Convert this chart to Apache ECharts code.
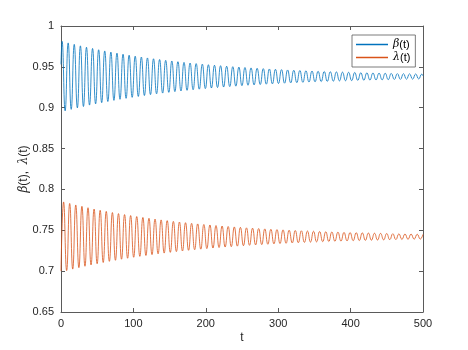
<!DOCTYPE html>
<html>
<head>
<meta charset="utf-8">
<script src="https://cdn.jsdelivr.net/npm/echarts@6/dist/echarts.min.js"></script>
<style>html,body{margin:0;padding:0;background:#fff}#c{width:468px;height:350px}</style>
</head>
<body>
<div id="c"></div>
<script>
// x tick labels / y tick labels
const xTicks = [0, 100, 200, 300, 400, 500];
const yTicks = [0.65, 0.7, 0.75, 0.8, 0.85, 0.9, 0.95, 1];

// beta(t): times of start, successive extremes, end
const betaT = [0,
  1.5, 5.7, 9.9, 14.1, 18.3, 22.6, 26.8, 31.0, 35.2, 39.4,
  43.6, 47.8, 52.0, 56.2, 60.4, 64.7, 68.9, 73.1, 77.3, 81.5,
  85.7, 89.9, 94.1, 98.3, 102.5, 106.8, 111.0, 115.2, 119.4, 123.6,
  127.8, 132.0, 136.2, 140.4, 144.6, 148.9, 153.1, 157.3, 161.5, 165.7,
  169.9, 174.1, 178.3, 182.5, 186.7, 191.0, 195.2, 199.4, 203.6, 207.8,
  212.0, 216.2, 220.4, 224.6, 228.8, 233.1, 237.3, 241.5, 245.7, 249.9,
  254.1, 258.3, 262.5, 266.7, 270.9, 275.2, 279.4, 283.6, 287.8, 292.0,
  296.2, 300.4, 304.6, 308.8, 313.0, 317.3, 321.5, 325.7, 329.9, 334.1,
  338.3, 342.5, 346.7, 350.9, 355.1, 359.4, 363.6, 367.8, 372.0, 376.2,
  380.4, 384.6, 388.8, 393.0, 397.2, 401.5, 405.7, 409.9, 414.1, 418.3,
  422.5, 426.7, 430.9, 435.1, 439.3, 443.6, 447.8, 452.0, 456.2, 460.4,
  464.6, 468.8, 473.0, 477.2, 481.4, 485.7, 489.9, 494.1, 498.3,
  500];
const betaV = [0.953,
  0.9812, 0.8962, 0.9793, 0.8980, 0.9775, 0.8998, 0.9757, 0.9015, 0.9740, 0.9032,
  0.9725, 0.9047, 0.9709, 0.9062, 0.9695, 0.9076, 0.9681, 0.9090, 0.9668, 0.9103,
  0.9655, 0.9115, 0.9643, 0.9127, 0.9631, 0.9138, 0.9620, 0.9149, 0.9609, 0.9160,
  0.9599, 0.9170, 0.9590, 0.9179, 0.9580, 0.9188, 0.9572, 0.9197, 0.9563, 0.9205,
  0.9555, 0.9213, 0.9547, 0.9220, 0.9540, 0.9227, 0.9533, 0.9234, 0.9526, 0.9241,
  0.9520, 0.9247, 0.9514, 0.9253, 0.9508, 0.9259, 0.9502, 0.9264, 0.9497, 0.9270,
  0.9492, 0.9275, 0.9487, 0.9279, 0.9482, 0.9284, 0.9478, 0.9288, 0.9474, 0.9292,
  0.9470, 0.9296, 0.9466, 0.9300, 0.9462, 0.9304, 0.9458, 0.9307, 0.9455, 0.9311,
  0.9452, 0.9314, 0.9449, 0.9317, 0.9446, 0.9320, 0.9443, 0.9322, 0.9440, 0.9325,
  0.9438, 0.9328, 0.9435, 0.9330, 0.9433, 0.9332, 0.9431, 0.9335, 0.9428, 0.9337,
  0.9426, 0.9339, 0.9424, 0.9341, 0.9422, 0.9342, 0.9421, 0.9344, 0.9419, 0.9346,
  0.9417, 0.9347, 0.9416, 0.9349, 0.9414, 0.9350, 0.9413, 0.9352, 0.9411,
  0.9390];

// lambda(t)
const lambdaT = [0,
  3.6, 7.8, 12.0, 16.2, 20.4, 24.7, 28.9, 33.1, 37.3, 41.5,
  45.7, 49.9, 54.1, 58.3, 62.5, 66.8, 71.0, 75.2, 79.4, 83.6,
  87.8, 92.0, 96.2, 100.4, 104.6, 108.9, 113.1, 117.3, 121.5, 125.7,
  129.9, 134.1, 138.3, 142.5, 146.7, 151.0, 155.2, 159.4, 163.6, 167.8,
  172.0, 176.2, 180.4, 184.6, 188.8, 193.1, 197.3, 201.5, 205.7, 209.9,
  214.1, 218.3, 222.5, 226.7, 230.9, 235.2, 239.4, 243.6, 247.8, 252.0,
  256.2, 260.4, 264.6, 268.8, 273.0, 277.3, 281.5, 285.7, 289.9, 294.1,
  298.3, 302.5, 306.7, 310.9, 315.1, 319.4, 323.6, 327.8, 332.0, 336.2,
  340.4, 344.6, 348.8, 353.0, 357.2, 361.5, 365.7, 369.9, 374.1, 378.3,
  382.5, 386.7, 390.9, 395.1, 399.3, 403.6, 407.8, 412.0, 416.2, 420.4,
  424.6, 428.8, 433.0, 437.2, 441.4, 445.7, 449.9, 454.1, 458.3, 462.5,
  466.7, 470.9, 475.1, 479.3, 483.5, 487.8, 492.0, 496.2,
  500];
const lambdaV = [0.700,
  0.7847, 0.7007, 0.7828, 0.7025, 0.7810, 0.7043, 0.7793, 0.7060, 0.7776, 0.7076,
  0.7760, 0.7091, 0.7745, 0.7106, 0.7731, 0.7120, 0.7717, 0.7133, 0.7704, 0.7146,
  0.7692, 0.7158, 0.7680, 0.7170, 0.7668, 0.7181, 0.7657, 0.7192, 0.7647, 0.7202,
  0.7637, 0.7212, 0.7627, 0.7221, 0.7618, 0.7230, 0.7609, 0.7239, 0.7601, 0.7247,
  0.7593, 0.7255, 0.7585, 0.7262, 0.7578, 0.7269, 0.7571, 0.7276, 0.7565, 0.7283,
  0.7558, 0.7289, 0.7552, 0.7295, 0.7546, 0.7300, 0.7541, 0.7306, 0.7536, 0.7311,
  0.7530, 0.7316, 0.7526, 0.7321, 0.7521, 0.7325, 0.7517, 0.7329, 0.7512, 0.7334,
  0.7508, 0.7338, 0.7505, 0.7341, 0.7501, 0.7345, 0.7497, 0.7348, 0.7494, 0.7352,
  0.7491, 0.7355, 0.7488, 0.7358, 0.7485, 0.7361, 0.7482, 0.7363, 0.7479, 0.7366,
  0.7477, 0.7368, 0.7474, 0.7371, 0.7472, 0.7373, 0.7470, 0.7375, 0.7468, 0.7377,
  0.7466, 0.7379, 0.7464, 0.7381, 0.7462, 0.7383, 0.7460, 0.7385, 0.7458, 0.7386,
  0.7457, 0.7388, 0.7455, 0.7389, 0.7454, 0.7391, 0.7452, 0.7392,
  0.7450];

const seriesNames = ['β(t)', 'λ(t)'];
const colors = ['#0072BD', '#D95319'];

function zip(t, v) {
  const n = Math.min(t.length, v.length);
  const out = [];
  for (let i = 0; i < n; i++) out.push([t[i], v[i]]);
  return out;
}

const axisColor = '#262626';
const lineColor = '#5a5a5a';
const font = 'Liberation Sans, Arial, Helvetica, sans-serif';

const chart = echarts.init(document.getElementById('c'), null, {renderer: 'canvas'});
const xBase = {
  type: 'value', min: xTicks[0], max: xTicks[xTicks.length - 1], interval: xTicks[1] - xTicks[0],
  splitLine: {show: false},
  axisLine: {show: true, onZero: false, lineStyle: {color: lineColor, width: 1}},
  axisTick: {show: true, inside: true, length: 4, lineStyle: {color: lineColor}}
};
const yBase = {
  type: 'value', min: yTicks[0], max: yTicks[yTicks.length - 1], interval: 0.05,
  splitLine: {show: false},
  axisLine: {show: true, onZero: false, lineStyle: {color: lineColor, width: 1}},
  axisTick: {show: true, inside: true, length: 4, lineStyle: {color: lineColor}}
};

chart.setOption({
  animation: false,
  backgroundColor: '#ffffff',
  textStyle: {fontFamily: font},
  grid: {left: 61, right: 45, top: 26, bottom: 38, containLabel: false},
  legend: {
    data: seriesNames.map(function (n, i) {
      return {name: n, icon: 'rect', itemStyle: {color: colors[i], borderWidth: 0}};
    }),
    orient: 'vertical',
    left: 352, top: 35,
    itemWidth: 32, itemHeight: 1.5, itemGap: 2,
    padding: [4, 5, 4, 4],
    borderColor: lineColor, borderWidth: 0.8, borderRadius: 0,
    backgroundColor: '#fff',
    textStyle: {fontSize: 11, color: '#000', fontFamily: font,
      rich: {i: {fontStyle: 'italic', fontSize: 11, fontFamily: 'DejaVu Serif, serif'}}},
    formatter: function (name) {
      return '{i|' + name.charAt(0) + '}' + name.slice(1);
    }
  },
  xAxis: [
    Object.assign({}, xBase, {
      position: 'bottom',
      name: 't', nameLocation: 'middle', nameGap: 20, nameMoveOverlap: false,
      nameTextStyle: {fontSize: 12, color: axisColor, fontFamily: font},
      axisLabel: {show: true, margin: 6, fontSize: 11, color: axisColor, fontFamily: font}
    }),
    Object.assign({}, xBase, {position: 'top', axisLabel: {show: false}})
  ],
  yAxis: [
    Object.assign({}, yBase, {
      position: 'left',
      name: '{i|β}(t),  {i|λ}(t)', nameLocation: 'middle', nameGap: 37, nameMoveOverlap: false,
      nameTextStyle: {fontSize: 12, color: axisColor, fontFamily: font, verticalAlign: 'middle',
        rich: {i: {fontStyle: 'italic', fontSize: 12, fontFamily: 'DejaVu Serif, serif', color: axisColor, verticalAlign: 'middle'}}},
      axisLabel: {show: true, margin: 7, fontSize: 11, color: axisColor, fontFamily: font}
    }),
    Object.assign({}, yBase, {position: 'right', axisLabel: {show: false}})
  ],
  series: [
    {
      name: seriesNames[0], type: 'line', data: zip(betaT, betaV),
      symbol: 'none', showSymbol: false, smooth: 0.5, sampling: null,
      lineStyle: {color: colors[0], width: 0.8}, itemStyle: {color: colors[0]},
      xAxisIndex: 0, yAxisIndex: 0
    },
    {
      name: seriesNames[1], type: 'line', data: zip(lambdaT, lambdaV),
      symbol: 'none', showSymbol: false, smooth: 0.5, sampling: null,
      lineStyle: {color: colors[1], width: 0.8}, itemStyle: {color: colors[1]},
      xAxisIndex: 0, yAxisIndex: 0
    }
  ]
});
</script>
</body>
</html>
